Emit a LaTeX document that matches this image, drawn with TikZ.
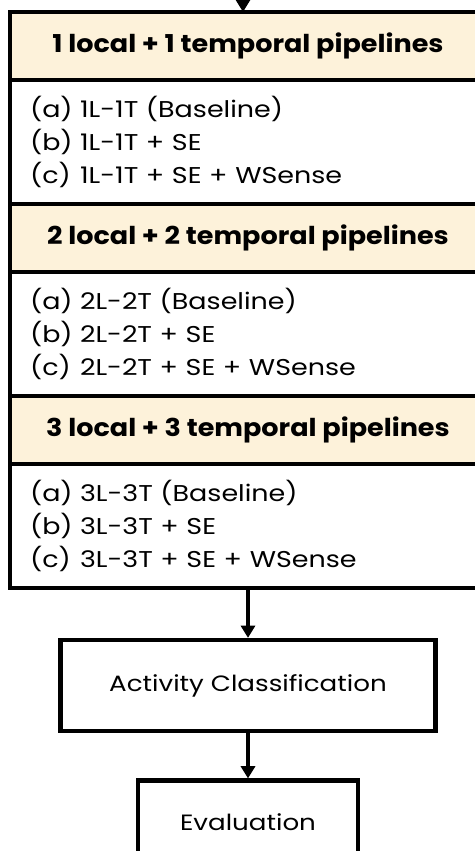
\documentclass[tikz,border=0pt]{standalone}
\usepackage{fontspec}
\setmainfont{Poppins}
\newfontfamily\widefont[FakeStretch=1.18]{Poppins}
\newfontfamily\widebold[FakeStretch=1.1]{Poppins}
\usetikzlibrary{arrows.meta,positioning}
\definecolor{hdcream}{RGB}{253,242,218}
\newcommand{\optlabel}[1]{\makebox[1cm][l]{#1}}

\begin{document}
\begin{tikzpicture}[x=0.02cm,y=-0.02cm,>={Triangle[width=8pt,length=7pt]},node distance=0pt,
    frame/.style={draw,line width=2.6pt,outer sep=0pt,minimum width=9.52cm},
    head/.style={frame,fill=hdcream,minimum height=1.36cm,font=\widebold\fontsize{14}{17}\selectfont\bfseries},
    items/.style={frame,fill=white,minimum height=2.48cm,text width=8.72cm,inner sep=0pt,align=left,font=\widefont\fontsize{13}{18.7}\selectfont},
    stage/.style={draw,line width=2.6pt,fill=white,font=\widefont\fontsize{12.6}{17}\selectfont}]
    \useasboundingbox (0,0) rectangle (475,851);
    \node[head] (h1) at (248,46) {1 local + 1 temporal pipelines};
    \node[items,below=of h1] (l1) {\optlabel{(a)}1L-1T (Baseline)\\\optlabel{(b)}1L-1T + SE\\\optlabel{(c)}1L-1T + SE + WSense};
    \node[head,below=of l1] (h2) {2 local + 2 temporal pipelines};
    \node[items,below=of h2] (l2) {\optlabel{(a)}2L-2T (Baseline)\\\optlabel{(b)}2L-2T + SE\\\optlabel{(c)}2L-2T + SE + WSense};
    \node[head,below=of l2] (h3) {3 local + 3 temporal pipelines};
    \node[items,below=of h3] (l3) {\optlabel{(a)}3L-3T (Baseline)\\\optlabel{(b)}3L-3T + SE\\\optlabel{(c)}3L-3T + SE + WSense};
    \node[stage,minimum width=7.5cm,minimum height=1.82cm,below=1cm of l3] (cls) {Activity Classification};
    \node[stage,minimum width=4.4cm,minimum height=1.64cm,below=0.9cm of cls] (eval) {Evaluation};
    % incoming line from the step above
    \coordinate (in) at (243,-30);
    \draw[->,line width=2.6pt] (in) -- (in |- h1.north);
    \draw[->,line width=2.6pt] (l3) -- (cls);
    \draw[->,line width=2.6pt] (cls) -- (eval);
\end{tikzpicture}
\end{document}
